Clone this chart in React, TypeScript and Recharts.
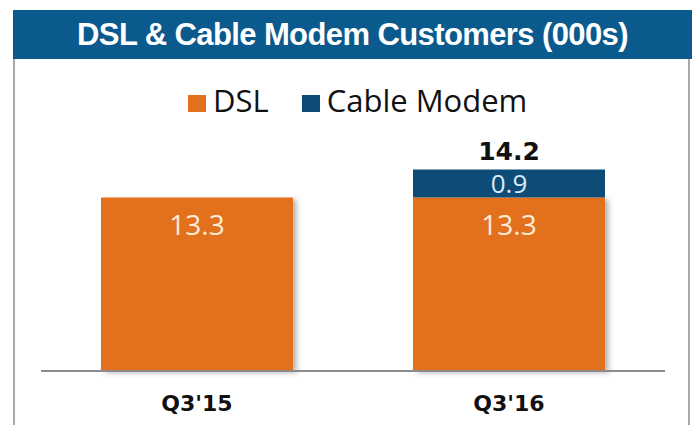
import React from "react";
import { Bar, BarChart, LabelList, XAxis, YAxis } from "recharts";

// valores del gráfico (miles)
const quarters = ["Q3'15", "Q3'16"];
const dslValues = [13.3, 13.3];
const cableValues: (number | null)[] = [null, 0.9];

const series = [
  { key: "dsl", name: "DSL", color: "#E3701F", labelColor: "#FDEBDA" },
  { key: "cable", name: "Cable Modem", color: "#0E4C78", labelColor: "#D8EAF6" },
];

const rows = quarters.map((q, i) => {
  const cable = cableValues[i];
  return {
    quarter: q,
    dsl: dslValues[i],
    cable,
    // total sólo cuando hay segmento apilado
    total: cable ? Math.round((dslValues[i] + cable) * 10) / 10 : null,
  };
});

const W = 695;
const H = 425;

export default function App() {
  return (
    <div
      style={{
        position: "absolute",
        left: 0,
        top: 0,
        width: W,
        height: H,
        overflow: "hidden",
        background: "#ffffff",
      }}
    >
      {/* marco gris */}
      <div
        style={{
          position: "absolute",
          left: 13,
          top: 10,
          width: 677,
          height: 440,
          border: "2px solid #a8a8a8",
          boxSizing: "border-box",
        }}
      />
      {/* barra de título */}
      <div
        style={{
          position: "absolute",
          left: 13,
          top: 10,
          width: 679,
          height: 49,
          background: "#0A5A8D",
          color: "#ffffff",
          fontFamily: "'Liberation Sans', Arial, sans-serif",
          fontWeight: 700,
          fontSize: 31,
          lineHeight: "49px",
          textAlign: "center",
          letterSpacing: "-0.6px",
          whiteSpace: "nowrap",
        }}
      >
        DSL &amp; Cable Modem Customers (000s)
      </div>
      {/* leyenda */}
      <div
        style={{
          position: "absolute",
          left: 188,
          top: 85,
          display: "flex",
          alignItems: "center",
          fontFamily: "'Open Sans', sans-serif",
          fontSize: 31,
          lineHeight: "30px",
          color: "#111111",
          whiteSpace: "nowrap",
        }}
      >
        {series.map((s, i) => (
          <div
            key={s.key}
            style={{ display: "flex", alignItems: "center", marginLeft: i ? 33 : 0 }}
          >
            <span
              style={{
                display: "inline-block",
                width: 18,
                height: 17,
                background: s.color,
                marginRight: 7,
                marginTop: 6,
              }}
            />
            <span>{s.name}</span>
          </div>
        ))}
      </div>

      <div style={{ position: "absolute", left: 0, top: 0 }}>
        <BarChart
          width={W}
          height={H}
          data={rows}
          margin={{ top: 110, right: 30, bottom: 14, left: 41 }}
          barSize={192}
        >
          <defs>
            <filter id="barShadow" x="-10%" y="-10%" width="130%" height="130%">
              <feDropShadow dx="4" dy="2" stdDeviation="2.5" floodColor="#6b6b6b" floodOpacity="0.45" />
            </filter>
          </defs>
          <XAxis
            dataKey="quarter"
            axisLine={{ stroke: "#8c8c8c", strokeWidth: 2 }}
            tickLine={false}
            tickSize={0}
            tickMargin={24}
            height={40}
            tick={{
              fill: "#111111",
              fontSize: 22,
              fontWeight: 700,
              fontFamily: "'DejaVu Sans', Verdana, sans-serif",
            }}
          />
          <YAxis hide domain={[0, 20]} />
          <Bar
            dataKey="dsl"
            stackId="a"
            fill={series[0].color}
            filter="url(#barShadow)"
            isAnimationActive={false}
          >
            <LabelList
              dataKey="dsl"
              position="insideTop"
              offset={18}
              fill={series[0].labelColor}
              fontSize={28}
              fontFamily="'Open Sans', sans-serif"
            />
          </Bar>
          <Bar
            dataKey="cable"
            stackId="a"
            fill={series[1].color}
            minPointSize={(_v: unknown, i: number) => (cableValues[i] ? 28 : 0)}
            isAnimationActive={false}
          >
            <LabelList
              dataKey="cable"
              position="center"
              fill={series[1].labelColor}
              fontSize={26}
              fontFamily="'Open Sans', sans-serif"
            />
            <LabelList
              dataKey="total"
              position="top"
              offset={9}
              fill="#111111"
              fontSize={25}
              fontWeight={700}
              fontFamily="'DejaVu Sans', Verdana, sans-serif"
            />
          </Bar>
        </BarChart>
      </div>
    </div>
  );
}
